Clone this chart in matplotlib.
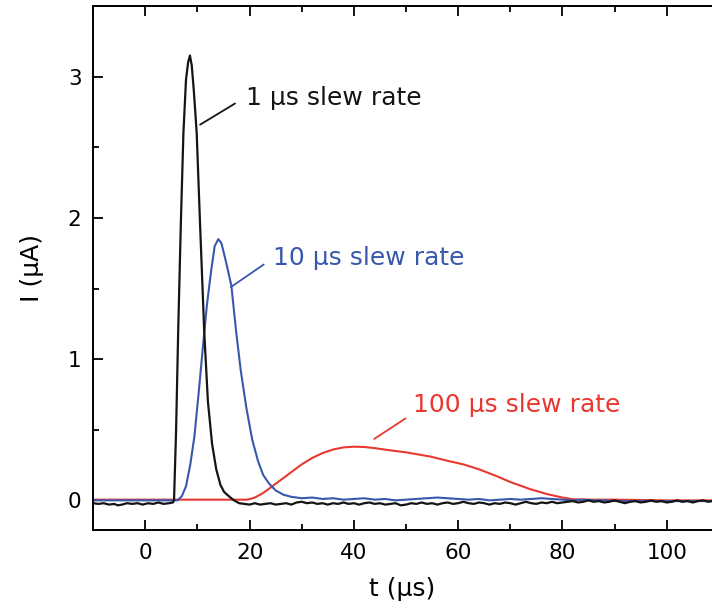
import matplotlib
matplotlib.use("Agg")
import matplotlib.pyplot as plt
from matplotlib.ticker import MultipleLocator

# 1 us slew rate (black)
t_1us = [-10, -9, -8, -7, -6, -5.3, -4.5, -3.5, -2.5, -1.5, -0.5, 0.5, 1.5, 2.5, 3.5, 4.5, 5.3,
         5.5, 5.9, 6.3, 6.8, 7.3, 7.8, 8.2, 8.55, 8.9, 9.3, 9.85, 10.5, 11.3, 12.0, 12.8, 13.6,
         14.4, 15.1, 16.0, 17.0, 18, 19, 20, 21, 22, 23, 24, 25, 26, 27, 28, 29, 30, 31, 32, 33,
         34, 35, 36, 37, 38, 39, 40, 41, 42, 43, 44, 45, 46, 47, 48, 49, 50, 51, 52, 53, 54, 55,
         56, 57, 58, 59, 60, 61, 62, 63, 64, 65, 66, 67, 68, 69, 70, 71, 72, 73, 74, 75, 76, 77,
         78, 79, 80, 81, 82, 83, 84, 85, 86, 87, 88, 89, 90, 91, 92, 93, 94, 95, 96, 97, 98, 99,
         100, 101, 102, 103, 104, 105, 106, 107, 108, 108.7]
i_1us = [-0.02, -0.025, -0.02, -0.03, -0.025, -0.035, -0.03, -0.02, -0.025, -0.02, -0.03, -0.02,
         -0.025, -0.015, -0.025, -0.02, -0.015,
         0.0, 0.5, 1.2, 1.95, 2.6, 2.98, 3.1, 3.15, 3.08, 2.9, 2.6, 1.95, 1.19, 0.7, 0.4, 0.22,
         0.11, 0.06, 0.03, 0.0, -0.02, -0.025, -0.03, -0.02, -0.03, -0.025, -0.02, -0.03, -0.025,
         -0.02, -0.03, -0.015, -0.01, -0.02, -0.015, -0.025, -0.02, -0.03, -0.02, -0.025, -0.015,
         -0.025, -0.02, -0.03, -0.02, -0.015, -0.025, -0.02, -0.03, -0.025, -0.02, -0.035, -0.03,
         -0.02, -0.025, -0.015, -0.025, -0.02, -0.03, -0.02, -0.015, -0.025, -0.02, -0.01, -0.02,
         -0.025, -0.015, -0.02, -0.03, -0.02, -0.025, -0.015, -0.02, -0.03, -0.02, -0.01, -0.02,
         -0.025, -0.015, -0.02, -0.01, -0.02, -0.015, -0.01, -0.005, -0.015, -0.01, 0.0, -0.01,
         -0.005, -0.015, -0.01, 0.0, -0.01, -0.02, -0.01, -0.005, -0.015, -0.01, 0.0, -0.01,
         -0.005, -0.015, -0.01, 0.0, -0.01, -0.005, -0.015, -0.005, 0.0, -0.01, -0.005]

# 10 us slew rate (blue)
t_10us = [-10, 6.2, 7.0, 7.8, 8.6, 9.4, 10.2, 11.0, 11.8, 12.6, 13.3, 14.0, 14.6, 15.4, 16.5,
          17.4, 18.3, 19.4, 20.5, 21.6, 22.6, 23.7, 25.0, 26.5, 28, 30, 32, 34, 36, 38, 40, 42,
          44, 46, 48, 50, 52, 54, 56, 58, 60, 62, 64, 66, 68, 70, 72, 74, 76, 78, 80, 82, 84,
          86, 88, 90, 108.7]
i_10us = [0.0, 0.0, 0.03, 0.1, 0.25, 0.45, 0.75, 1.07, 1.38, 1.62, 1.8, 1.85, 1.82, 1.7, 1.52,
          1.2, 0.92, 0.65, 0.43, 0.28, 0.18, 0.12, 0.07, 0.04, 0.025, 0.015, 0.02, 0.01, 0.015,
          0.005, 0.01, 0.015, 0.005, 0.01, 0.0, 0.005, 0.01, 0.015, 0.02, 0.015, 0.01, 0.005,
          0.01, 0.0, 0.005, 0.01, 0.005, 0.01, 0.015, 0.01, 0.005, 0.0, 0.005, 0.0, 0.0,
          -0.005, -0.005]

# 100 us slew rate (red)
t_100us = [-10, 0, 10, 19.6, 21, 22.5, 24, 26, 28, 30, 32, 34, 36, 38, 40, 42, 44, 46.4, 50,
           54.7, 58, 61, 64, 67.5, 70, 73.8, 77, 80, 82, 85, 90, 100, 108.7]
i_100us = [0.005, 0.005, 0.005, 0.005, 0.02, 0.05, 0.09, 0.145, 0.2, 0.255, 0.3, 0.335, 0.36,
           0.375, 0.38, 0.378, 0.37, 0.357, 0.34, 0.31, 0.28, 0.255, 0.22, 0.17, 0.13, 0.08,
           0.045, 0.02, 0.008, 0.005, 0.005, 0.0, 0.0]

x_ticks = [0, 20, 40, 60, 80, 100]
y_ticks = [0, 1, 2, 3]

c_black = "#141414"
c_blue = "#3858ae"
c_red = "#e8382f"

fig = plt.figure(figsize=(7.12, 6.1), dpi=100)
ax = fig.add_axes([0.1302, 0.1311, 0.8698, 0.859])

ax.plot(t_100us, i_100us, color=c_red, lw=1.5)
ax.plot(t_10us, i_10us, color=c_blue, lw=1.5)
ax.plot(t_1us, i_1us, color=c_black, lw=1.6)

ax.set_xlim(-10.1, 108.7)
ax.set_ylim(-0.21, 3.5)
ax.set_xticks(x_ticks)
ax.set_yticks(y_ticks)
ax.xaxis.set_minor_locator(MultipleLocator(10))
ax.yaxis.set_minor_locator(MultipleLocator(0.5))
ax.tick_params(which="both", direction="in", top=True, right=False, width=1.3, labelsize=15.5)
ax.tick_params(axis="x", which="major", length=7.5, pad=9)
ax.tick_params(axis="y", which="major", length=7.5, pad=8)
ax.tick_params(which="minor", length=4.5)
ax.spines["right"].set_visible(False)
for s in ["left", "bottom", "top"]:
    ax.spines[s].set_linewidth(1.4)

ax.set_xlabel("t (μs)", fontsize=18)
ax.set_ylabel("I (μA)", fontsize=18)
ax.xaxis.set_label_coords(0.5, -0.09)
ax.yaxis.set_label_coords(-0.079, 0.5)

# labels with leader lines
ax.annotate("", xy=(10.5, 2.66), xytext=(17.2, 2.81),
            arrowprops=dict(arrowstyle="-", color=c_black, lw=1.3, shrinkA=0, shrinkB=0))
ax.text(19.3, 2.80, "1 μs slew rate", color=c_black, fontsize=18, va="baseline", ha="left")
ax.annotate("", xy=(16.4, 1.51), xytext=(22.7, 1.67),
            arrowprops=dict(arrowstyle="-", color=c_blue, lw=1.3, shrinkA=0, shrinkB=0))
ax.text(24.4, 1.664, "10 μs slew rate", color=c_blue, fontsize=18, va="baseline", ha="left")
ax.annotate("", xy=(43.9, 0.435), xytext=(49.9, 0.58),
            arrowprops=dict(arrowstyle="-", color=c_red, lw=1.3, shrinkA=0, shrinkB=0))
ax.text(51.3, 0.624, "100 μs slew rate", color=c_red, fontsize=18, va="baseline", ha="left")

fig.savefig("out.png", dpi=100)
